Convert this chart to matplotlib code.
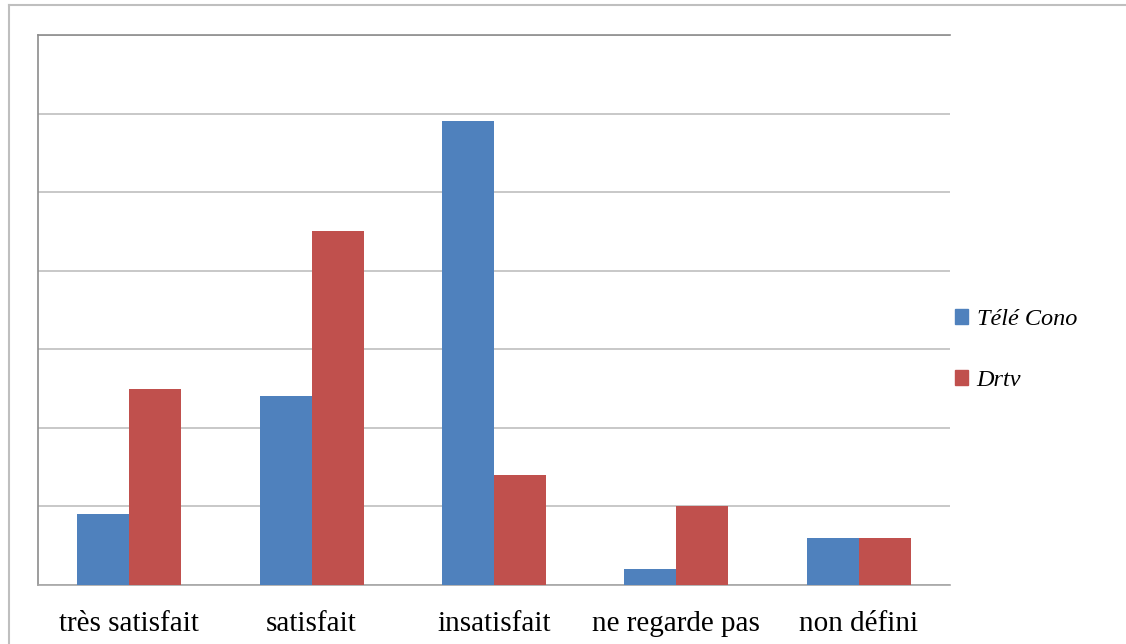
import matplotlib
matplotlib.use("Agg")
import matplotlib.pyplot as plt
import numpy as np
from matplotlib.lines import Line2D
from matplotlib.patches import Patch

categories = ["très satisfait", "satisfait", "insatisfait", "ne regarde pas", "non défini"]
series_names = ["Télé Cono", "Drtv"]
tele_cono = [9, 24, 59, 2, 6]
drtv = [25, 45, 14, 10, 6]
colors = ["#4F81BD", "#C0504D"]

W, H = 1126, 644
fig = plt.figure(figsize=(W / 100, H / 100), dpi=100)

# outer border (top and left only visible)
fig.add_artist(Line2D([9 / W, 1.0], [1 - 5 / H, 1 - 5 / H], color="#BFBFBF", lw=1.5, transform=fig.transFigure))
fig.add_artist(Line2D([9 / W, 9 / W], [0, 1 - 5 / H], color="#BFBFBF", lw=1.5, transform=fig.transFigure))

ax = fig.add_axes([38 / W, 1 - 585 / H, (950 - 38) / W, (585 - 35) / H])
x = np.arange(len(categories))
bw = 0.285
ax.bar(x - bw / 2, tele_cono, width=bw, color=colors[0], zorder=3, label=series_names[0])
ax.bar(x + bw / 2, drtv, width=bw, color=colors[1], zorder=3, label=series_names[1])

ax.set_xlim(-0.5, len(categories) - 0.5)
ax.set_ylim(0, 70)
ax.set_yticks(np.arange(0, 71, 10))
ax.yaxis.grid(True, color="#BFBFBF", lw=1.2, zorder=0)
ax.tick_params(axis="y", length=0, labelleft=False)
ax.tick_params(axis="x", length=0, pad=19)
ax.set_xticks(x)
ax.set_xticklabels(categories, fontsize=21, family="Liberation Serif")
for s in ["top", "left"]:
    ax.spines[s].set_color("#8C8C8C")
    ax.spines[s].set_linewidth(1.2)
ax.spines["right"].set_visible(False)
ax.spines["bottom"].set_color("#A6A6A6")
ax.spines["bottom"].set_linewidth(1.2)

handles = [Patch(color=c) for c in colors]
leg = fig.legend(handles, series_names, loc="center left", bbox_to_anchor=(950 / W, 1 - 350 / H),
                 frameon=False, handlelength=0.55, handleheight=0.55, handletextpad=0.35,
                 borderaxespad=0, borderpad=0.2,
                 labelspacing=1.65, prop={"family": "Liberation Serif", "style": "italic", "size": 17.5})

fig.savefig("out.png", dpi=100)
